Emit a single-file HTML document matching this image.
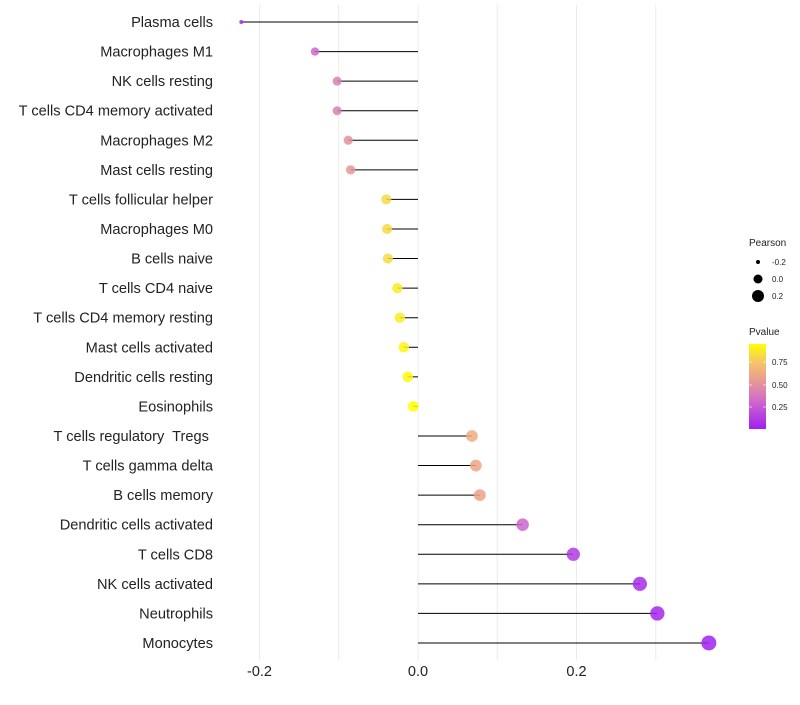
<!DOCTYPE html>
<html><head><meta charset="utf-8"><style>
body{margin:0;background:#fff;font-family:"Liberation Sans",sans-serif}
</style></head><body>
<svg id="c" width="800" height="700" xmlns="http://www.w3.org/2000/svg" font-family="Liberation Sans, sans-serif"></svg>
<script>
const categories=["Plasma cells","Macrophages M1","NK cells resting","T cells CD4 memory activated","Macrophages M2","Mast cells resting","T cells follicular helper","Macrophages M0","B cells naive","T cells CD4 naive","T cells CD4 memory resting","Mast cells activated","Dendritic cells resting","Eosinophils","T cells regulatory  Tregs ","T cells gamma delta","B cells memory","Dendritic cells activated","T cells CD8","NK cells activated","Neutrophils","Monocytes"];
const pearson=[-0.223,-0.130,-0.102,-0.102,-0.088,-0.085,-0.040,-0.039,-0.038,-0.026,-0.023,-0.018,-0.013,-0.006,0.068,0.073,0.078,0.132,0.196,0.280,0.302,0.367];
const pvalue=[0.05,0.30,0.42,0.42,0.50,0.52,0.82,0.82,0.82,0.88,0.88,0.92,0.93,0.95,0.62,0.60,0.58,0.30,0.12,0.05,0.03,0.01];
const xTicks=[-0.2,0.0,0.2];
const xGrid=[-0.2,-0.1,0,0.1,0.2,0.3];
const NS="http://www.w3.org/2000/svg",svg=document.getElementById('c');
const x=v=>418+v*792.5, y=i=>22+i*29.57;
const pmin=0.0,pmax=0.95;
const stops=[[0,[160,32,240]],[0.35,[210,110,200]],[0.6,[235,160,140]],[0.8,[245,200,100]],[1,[255,255,0]]];
function col(p){let t=Math.max(0,Math.min(1,(p-pmin)/(pmax-pmin)));
for(let k=1;k<stops.length;k++){if(t<=stops[k][0]){const[a0,a]=stops[k-1],[b0,b]=stops[k];const u=(t-a0)/(b0-a0);return `rgb(${a.map((c,j)=>Math.round(c+(b[j]-c)*u)).join(',')})`;}}return 'rgb(255,255,0)';}
const vmin=Math.min(...pearson),vmax=Math.max(...pearson);
function rad(v){let t=(v-vmin)/(vmax-vmin);return 2+5.5*Math.sqrt(t);}
function mk(tag,at,txt){const e=document.createElementNS(NS,tag);for(const k in at)e.setAttribute(k,at[k]);if(txt!=null)e.textContent=txt;svg.appendChild(e);return e;}
const defs=mk('defs',{});const g=document.createElementNS(NS,'linearGradient');g.setAttribute('id','gr');g.setAttribute('x1','0');g.setAttribute('y1','1');g.setAttribute('x2','0');g.setAttribute('y2','0');
stops.forEach(([o,c])=>{const s=document.createElementNS(NS,'stop');s.setAttribute('offset',o);s.setAttribute('stop-color',`rgb(${c.join(',')})`);g.appendChild(s);});defs.appendChild(g);
xGrid.forEach(gv=>{const e=mk('line',{x1:x(gv),x2:x(gv),y1:5,y2:660,stroke:'#ebebeb','stroke-width':1});

});
xTicks.forEach(t=>{const e=mk('text',{x:x(t),y:676,'font-size':14.5,'text-anchor':'middle',fill:'#222'},t.toFixed(1));

});
categories.forEach((c,i)=>{
const l=mk('text',{x:213,y:y(i)+5,'font-size':14.6,'text-anchor':'end',fill:'#222',style:'white-space:pre'},c);


const s=mk('line',{x1:x(0),x2:x(pearson[i]),y1:y(i),y2:y(i),stroke:'#000','stroke-width':1});


const d=mk('circle',{cx:x(pearson[i]),cy:y(i),r:rad(pearson[i]),fill:col(pvalue[i]),'fill-opacity':0.85});


});
let t=mk('text',{x:749,y:246,'font-size':10,fill:'#222'},'Pearson');


[[-0.2,262,2],[0.0,279,4.5],[0.2,296,6]].forEach(([v,yy,r])=>{
const c=mk('circle',{cx:758,cy:yy,r:r,fill:'#000'});


const tt=mk('text',{x:772,y:yy+3,'font-size':8,fill:'#222'},v.toFixed(1));

});
t=mk('text',{x:749,y:335,'font-size':10,fill:'#222'},'Pvalue');


const bar=mk('rect',{x:749,y:344,width:17,height:85,fill:'url(#gr)'});


[[0.75,362],[0.50,385],[0.25,407]].forEach(([v,yy])=>{
mk('line',{x1:749,x2:752,y1:yy,y2:yy,stroke:'#fff','stroke-opacity':0.6});mk('line',{x1:763,x2:766,y1:yy,y2:yy,stroke:'#fff','stroke-opacity':0.6});
const tt=mk('text',{x:772,y:yy+3,'font-size':8,fill:'#222'},v.toFixed(2));

});
</script>
</body></html>
